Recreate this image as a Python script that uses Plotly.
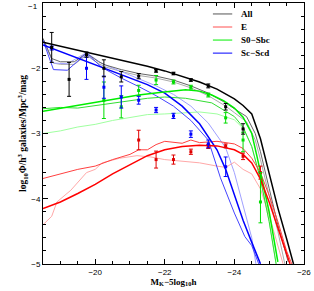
import plotly.graph_objects as go

# ---------------- data ----------------
# data points (magnitude bins)
pts_all_M = [-18.75, -19.25, -19.75, -20.25, -20.75, -21.25, -21.75, -22.25, -22.75, -23.25, -23.75, -24.25]
pts_all_phi = [-1.68, -2.17, -1.79, -2.00, -2.13, -2.12, -2.04, -2.08, -2.18, -2.27, -2.59, -2.93]
pts_all_err = [0.23, 0.26, 0.04, 0.13, 0.08, 0.04, 0.02, 0.02, 0.02, 0.03, 0.05, 0.08]

pts_sc_M = [-18.75, -19.75, -20.25, -20.75, -21.25, -21.75, -22.25, -22.75, -23.25, -23.75]
pts_sc_phi = [-1.69, -2.00, -2.29, -2.44, -2.49, -2.64, -2.73, -3.01, -3.16, -3.51]
pts_sc_err = [0.03, 0.17, 0.17, 0.17, 0.06, 0.04, 0.04, 0.05, 0.06, 0.15]

pts_s0_M = [-20.25, -20.75, -21.25, -21.75, -22.25, -22.75, -23.25, -23.75, -24.25, -24.75]
pts_s0_phi = [-2.49, -2.59, -2.34, -2.18, -2.21, -2.29, -2.41, -2.76, -3.10, -4.05]
pts_s0_errp = [0.28, 0.17, 0.08, 0.07, 0.03, 0.03, 0.03, 0.08, 0.12, 0.45]
pts_s0_errm = [0.28, 0.17, 0.08, 0.07, 0.03, 0.03, 0.03, 0.08, 0.18, 0.32]

pts_e_M = [-21.25, -21.75, -22.25, -22.75, -23.25, -23.75, -24.25, -24.75]
pts_e_phi = [-3.10, -3.40, -3.40, -3.28, -3.20, -3.19, -3.35, -3.60]
pts_e_err = [0.15, 0.13, 0.07, 0.04, 0.03, 0.03, 0.05, 0.10]

# model / fit lines
all_fit_M = [-18.5, -19, -19.5, -20, -20.5, -21, -21.5, -22, -22.5, -23, -23.5, -24, -24.25, -24.5, -24.75, -25, -25.25, -25.5, -25.7]
all_fit_phi = [-1.60, -1.66, -1.72, -1.78, -1.84, -1.90, -1.97, -2.04, -2.12, -2.21, -2.32, -2.47, -2.57, -2.70, -3.08, -3.62, -4.14, -4.61, -5.0]
all_m1_M = [-18.5, -18.75, -19.0, -19.4, -19.75, -20.1, -20.3, -20.75, -21.25, -21.75, -22.25, -22.75, -23.25, -23.75, -24.0, -24.35, -24.6, -24.75, -25.0, -25.25, -25.55]
all_m1_phi = [-1.54, -1.85, -1.90, -1.90, -1.77, -1.90, -1.95, -2.02, -2.08, -2.12, -2.18, -2.27, -2.38, -2.53, -2.62, -2.74, -3.00, -3.28, -3.84, -4.40, -4.97]
all_m2_M = [-18.5, -18.8, -19.0, -19.4, -19.75, -20.1, -20.3, -20.75, -21.25, -21.75, -22.25, -22.75, -23.25, -23.75, -24.0, -24.35, -24.6, -24.75, -25.0, -25.25, -25.45]
all_m2_phi = [-1.56, -1.92, -1.94, -1.94, -1.80, -1.93, -1.98, -2.05, -2.11, -2.15, -2.21, -2.30, -2.42, -2.58, -2.68, -2.82, -3.10, -3.40, -3.95, -4.50, -5.0]

sc_fit_M = [-18.5, -19.0, -19.5, -20.0, -20.5, -21.0, -21.5, -22.0, -22.5, -23.0, -23.5, -23.75, -24.0, -24.25, -24.5, -24.75]
sc_fit_phi = [-1.64, -1.74, -1.84, -1.94, -2.04, -2.14, -2.25, -2.38, -2.58, -2.85, -3.25, -3.55, -3.95, -4.33, -4.67, -5.0]
sc_m1_M = [-18.5, -18.8, -19.2, -19.75, -20.2, -20.75, -21.25, -21.75, -22.25, -22.75, -23.25, -23.6, -24.0, -24.3, -24.5, -24.7]
sc_m1_phi = [-1.57, -2.02, -2.03, -1.77, -1.99, -2.15, -2.28, -2.42, -2.58, -2.80, -3.10, -3.68, -4.22, -4.58, -4.72, -5.0]
sc_m2_M = [-18.5, -18.8, -19.2, -19.75, -20.2, -20.75, -21.25, -21.75, -22.25, -22.75, -23.25, -23.75, -24.0, -24.25, -24.5, -24.62]
sc_m2_phi = [-1.55, -1.92, -1.93, -1.76, -1.93, -2.05, -2.16, -2.27, -2.40, -2.58, -2.84, -3.22, -3.60, -4.10, -4.60, -5.0]

s0_fit_M = [-18.5, -19.5, -20.5, -21.25, -21.85, -22.6, -23.0, -23.35, -23.7, -24.0, -24.25, -24.5, -24.65, -24.88, -25.0, -25.25]
s0_fit_phi = [-2.66, -2.57, -2.48, -2.41, -2.37, -2.33, -2.35, -2.41, -2.50, -2.61, -2.75, -3.00, -3.35, -3.88, -4.20, -4.97]
s0_m1_M = [-18.5, -19, -19.5, -20, -20.5, -21, -21.5, -22, -22.6, -23.35, -24.0, -24.25, -24.5, -24.75, -25, -25.2]
s0_m1_phi = [-2.62, -2.60, -2.61, -2.57, -2.54, -2.49, -2.46, -2.44, -2.46, -2.53, -2.74, -2.90, -3.20, -3.70, -4.35, -5.0]
s0_m2_M = [-18.5, -19, -19.5, -20, -20.5, -21, -21.5, -22, -22.5, -23, -23.5, -24, -24.25, -24.5, -24.75, -25, -25.2]
s0_m2_phi = [-3.00, -2.96, -2.90, -2.86, -2.80, -2.76, -2.71, -2.70, -2.68, -2.67, -2.70, -2.79, -2.92, -3.20, -3.70, -4.35, -5.0]

e_fit_M = [-18.5, -19.0, -19.5, -20.0, -20.5, -21.0, -21.5, -22.0, -22.5, -23.0, -23.5, -24.0, -24.25, -24.5, -24.75, -25.0, -25.25, -25.5, -25.6]
e_fit_phi = [-4.15, -4.05, -3.92, -3.78, -3.62, -3.48, -3.34, -3.25, -3.20, -3.18, -3.19, -3.25, -3.32, -3.45, -3.70, -4.05, -4.45, -4.85, -5.0]
e_m1_M = [-18.5, -19.0, -19.5, -20.0, -20.5, -21.0, -21.25, -21.5, -21.75, -22.0, -22.5, -22.75, -23.0, -23.5, -24.0, -24.25, -24.5, -24.75, -25.0, -25.25, -25.5, -25.65]
e_m1_phi = [-3.69, -3.62, -3.55, -3.50, -3.40, -3.32, -3.25, -3.25, -3.17, -3.12, -3.15, -3.10, -3.14, -3.12, -3.16, -3.23, -3.38, -3.60, -3.95, -4.35, -4.80, -5.0]
e_m2_M = [-18.5, -18.75, -18.9, -19.3, -19.75, -20.0, -20.2, -20.7, -21.2, -21.6, -22.0, -22.5, -23.0, -23.5, -23.75, -24.0, -24.25, -24.5, -24.75, -25.0, -25.25, -25.4]
e_m2_phi = [-4.40, -4.27, -4.05, -3.87, -3.60, -3.55, -3.45, -3.38, -3.34, -3.36, -3.40, -3.42, -3.45, -3.50, -3.52, -3.44, -3.55, -3.62, -3.85, -4.25, -4.70, -5.0]

legend_labels = ["All", "E", "S0\u2212Sbc", "Sc\u2212Scd"]
legend_colors = ["#555555", "#ff5050", "#00ee00", "#0000ff"]

x_ticks = [-20, -22, -24, -26]
y_ticks = [-1, -2, -3, -4, -5]
y_ticktext = ["", "\u22122", "\u22123", "\u22124", "\u22125"]
y_top_label = "\u22121"

# ---------------- figure ----------------
fig = go.Figure()

def line(M, phi, color, width):
    fig.add_trace(go.Scatter(x=M, y=phi, mode="lines",
                             line=dict(color=color, width=width),
                             showlegend=False, hoverinfo="skip"))

# light lines first
line(all_m2_M, all_m2_phi, "#aaaaaa", 1)
line(sc_m2_M, sc_m2_phi, "#a0a0ff", 1)
line(s0_m2_M, s0_m2_phi, "#a0ffa0", 1)
line(e_m2_M, e_m2_phi, "#ffa8a8", 1)
# medium lines
line(all_m1_M, all_m1_phi, "#666666", 1)
line(sc_m1_M, sc_m1_phi, "#4444ff", 1)
line(s0_m1_M, s0_m1_phi, "#33dd33", 1)
line(e_m1_M, e_m1_phi, "#ff4040", 1)
# fits
line(all_fit_M, all_fit_phi, "#000000", 1.5)
line(sc_fit_M, sc_fit_phi, "#0000ff", 1.5)
line(s0_fit_M, s0_fit_phi, "#00ee00", 1.5)
line(e_fit_M, e_fit_phi, "#ff0000", 1.5)

def points(M, phi, errp, errm, color):
    fig.add_trace(go.Scatter(x=M, y=phi, mode="markers",
                             marker=dict(symbol="square", size=3, color=color),
                             error_y=dict(type="data", array=errp, arrayminus=errm,
                                          symmetric=False, color=color, thickness=1, width=2),
                             showlegend=False, hoverinfo="skip"))

points(pts_e_M, pts_e_phi, pts_e_err, pts_e_err, "#e00000")
points(pts_s0_M, pts_s0_phi, pts_s0_errp, pts_s0_errm, "#00dd00")
points(pts_sc_M, pts_sc_phi, pts_sc_err, pts_sc_err, "#0000ff")
points(pts_all_M, pts_all_phi, pts_all_err, pts_all_err, "#000000")

# legend (drawn in paper coords)
leg_y = [0.958, 0.908, 0.858, 0.808]
for lab, col, yy in zip(legend_labels, legend_colors, leg_y):
    fig.add_shape(type="line", xref="paper", yref="paper", x0=0.651, x1=0.725, y0=yy, y1=yy,
                  line=dict(color=col, width=1))
    fig.add_annotation(xref="paper", yref="paper", x=0.752, y=yy, text=lab, showarrow=False,
                       xanchor="left", yanchor="middle",
                       font=dict(family="Liberation Serif", size=9, color="black", weight="bold"))

axfont = dict(family="Liberation Sans", size=8, color="black")

# top y tick label (placed as annotation so it is not hidden at the edge)
fig.add_annotation(xref="paper", yref="y", x=0, y=y_ticks[0], text=y_top_label, showarrow=False,
                   xanchor="right", yanchor="top", xshift=-3, yshift=3, font=axfont)

fig.update_xaxes(range=[-18.5, -26.0015], tickvals=x_ticks, ticks="inside", ticklen=5, tickcolor="black",
                 showline=True, linecolor="black", linewidth=1, mirror="ticks", showgrid=False,
                 zeroline=False, tickfont=axfont, automargin=False,
                 minor=dict(dtick=0.5, ticks="inside", ticklen=3, tickcolor="black", showgrid=False),
                 title=dict(text="M<sub>K</sub>\u22125log<sub>10</sub>h", standoff=2,
                            font=dict(family="Liberation Serif", size=9, color="black", weight="bold")))
fig.update_yaxes(range=[-5.0015, -0.9985], tickvals=y_ticks, ticktext=y_ticktext, ticks="inside",
                 ticklen=5, tickcolor="black",
                 showline=True, linecolor="black", linewidth=1, mirror="ticks", showgrid=False,
                 zeroline=False, tickfont=axfont, automargin=False,
                 minor=dict(dtick=0.2, ticks="inside", ticklen=3, tickcolor="black", showgrid=False),
                 title=dict(text="log<sub>10</sub>\u03a6/h<sup>3</sup> galaxies/Mpc<sup>3</sup>/mag",
                            standoff=2,
                            font=dict(family="Liberation Serif", size=9.5, color="black", weight="bold")))

fig.update_layout(width=314, height=291, margin=dict(l=43, r=10, t=3, b=27),
                  plot_bgcolor="white", paper_bgcolor="white", showlegend=False)

fig.write_html("out.html", config={"displayModeBar": False},
               post_script="document.body.style.margin='0px';document.body.style.padding='0px';")
